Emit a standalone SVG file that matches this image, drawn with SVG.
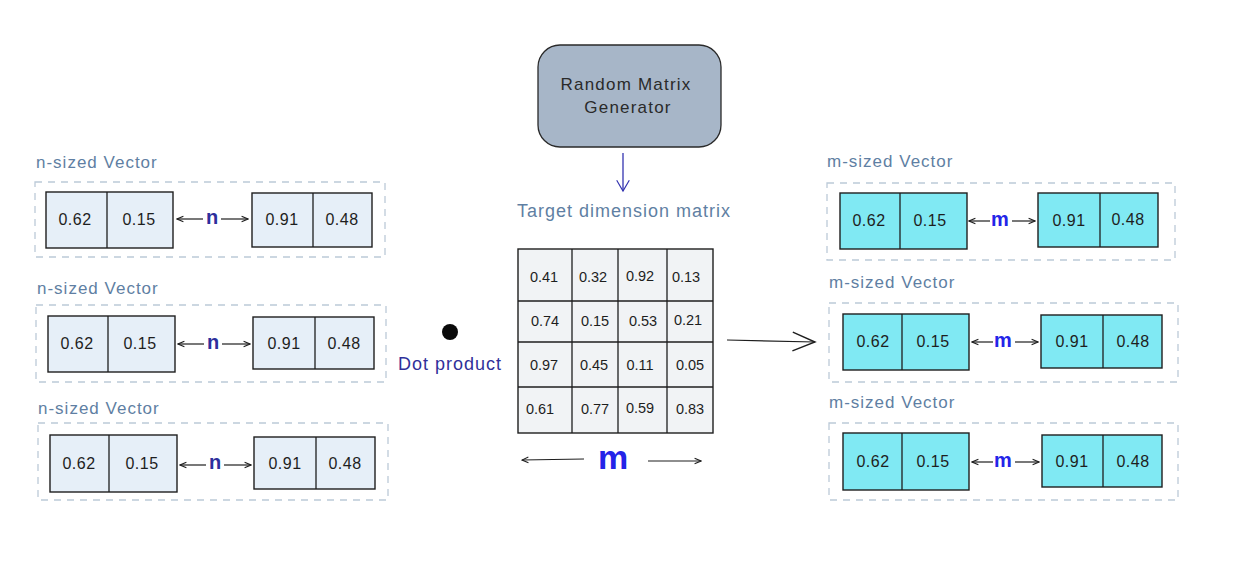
<svg xmlns="http://www.w3.org/2000/svg" width="1248" height="568" viewBox="0 0 1248 568">
  <style>
    .bg { fill: #ffffff; }
    .group-box { fill: none; stroke: #bccad8; stroke-width: 1.3; stroke-dasharray: 7 6; }
    .group-label { font-family: "Liberation Sans", "DejaVu Sans", sans-serif; font-size: 17px; letter-spacing: 1px; fill: #5f7fa3; }
    .vec-n { fill: #e6eff8; stroke: #1e1e1e; stroke-width: 1.4; }
    .vec-m { fill: #80e9f3; stroke: #1e1e1e; stroke-width: 1.4; }
    .div { stroke: #1e1e1e; stroke-width: 1.3; }
    .val { font-family: "Liberation Sans", "DejaVu Sans", sans-serif; font-size: 16px; letter-spacing: 0.5px; fill: #1e1e1e; text-anchor: middle; }
    .dim-n { font-family: "Liberation Sans", sans-serif; font-size: 20px; font-weight: bold; fill: #2e2e9c; text-anchor: middle; }
    .dim-m { font-family: "Liberation Sans", sans-serif; font-size: 20px; font-weight: bold; fill: #2424e8; text-anchor: middle; }
    .dim-big { font-family: "Liberation Sans", sans-serif; font-size: 34px; font-weight: bold; fill: #2424e8; text-anchor: middle; }
    .conn { stroke: #1e1e1e; stroke-width: 1.2; fill: none; }
    .gen { fill: #a7b6c8; stroke: #2a2a2a; stroke-width: 1.3; }
    .gen-text { font-family: "Liberation Sans", "DejaVu Sans", sans-serif; font-size: 17px; letter-spacing: 1.2px; fill: #2a2a2a; text-anchor: middle; }
    .matrix { fill: #f1f3f5; stroke: #1e1e1e; stroke-width: 1.4; }
    .mval { font-family: "Liberation Sans", "DejaVu Sans", sans-serif; font-size: 14.5px; fill: #1e1e1e; text-anchor: middle; }
    .caption { font-family: "Liberation Sans", "DejaVu Sans", sans-serif; font-size: 18px; letter-spacing: 1px; fill: #5f7fa3; }
    .dot-label { font-family: "Liberation Sans", "DejaVu Sans", sans-serif; font-size: 18px; letter-spacing: 1px; fill: #30309a; }
  </style>
  <defs>
    <marker id="head" viewBox="0 0 10 10" refX="9" refY="5" markerWidth="8" markerHeight="8" orient="auto-start-reverse" markerUnits="userSpaceOnUse">
      <path d="M1,1.5 L9,5 L1,8.5" fill="none" stroke="#1e1e1e" stroke-width="1.3"/>
    </marker>
    <marker id="head-big" viewBox="0 0 30 30" refX="28" refY="15" markerWidth="28" markerHeight="28" orient="auto" markerUnits="userSpaceOnUse">
      <path d="M4,5 L28,15 L4,25" fill="none" stroke="#1e1e1e" stroke-width="1.5"/>
    </marker>
    <marker id="head-blue" viewBox="0 0 20 20" refX="10" refY="18" markerWidth="18" markerHeight="18" orient="0" markerUnits="userSpaceOnUse">
      <path d="M3,6 L10,18 L17,6" fill="none" stroke="#3434b0" stroke-width="1.3"/>
    </marker>
  </defs>

  <rect class="bg" x="0" y="0" width="1248" height="568"/>

  <!-- n-sized input vectors -->
  <g id="n-vector-1">
    <text class="group-label" x="36" y="168">n-sized Vector</text>
    <rect class="group-box" x="35" y="182" width="350" height="75"/>
    <rect class="vec-n" x="46" y="192" width="127" height="56"/>
    <line class="div" x1="107" y1="192" x2="107" y2="248"/>
    <text class="val" x="75" y="225">0.62</text>
    <text class="val" x="139" y="225">0.15</text>
    <rect class="vec-n" x="252" y="193" width="120" height="54"/>
    <line class="div" x1="313" y1="193" x2="313" y2="247"/>
    <text class="val" x="282" y="225">0.91</text>
    <text class="val" x="342" y="225">0.48</text>
    <text class="dim-n" x="212" y="224">n</text>
  </g>

  <g id="n-vector-2">
    <text class="group-label" x="37" y="294">n-sized Vector</text>
    <rect class="group-box" x="36" y="305" width="350" height="77"/>
    <rect class="vec-n" x="48" y="316" width="127" height="56"/>
    <line class="div" x1="108" y1="316" x2="108" y2="372"/>
    <text class="val" x="77" y="349">0.62</text>
    <text class="val" x="140" y="349">0.15</text>
    <rect class="vec-n" x="253" y="317" width="121" height="52"/>
    <line class="div" x1="315" y1="317" x2="315" y2="369"/>
    <text class="val" x="284" y="349">0.91</text>
    <text class="val" x="344" y="349">0.48</text>
    <text class="dim-n" x="213" y="349">n</text>
  </g>

  <g id="n-vector-3">
    <text class="group-label" x="38" y="414">n-sized Vector</text>
    <rect class="group-box" x="38" y="423" width="350" height="77"/>
    <rect class="vec-n" x="50" y="435" width="127" height="57"/>
    <line class="div" x1="109" y1="435" x2="109" y2="492"/>
    <text class="val" x="79" y="469">0.62</text>
    <text class="val" x="142" y="469">0.15</text>
    <rect class="vec-n" x="254" y="437" width="121" height="52"/>
    <line class="div" x1="316" y1="437" x2="316" y2="489"/>
    <text class="val" x="285" y="469">0.91</text>
    <text class="val" x="345" y="469">0.48</text>
    <text class="dim-n" x="215" y="469">n</text>
  </g>

  <!-- generator -->
  <g id="random-matrix-generator">
    <rect class="gen" x="538" y="45" width="183" height="102" rx="22" ry="22"/>
    <text class="gen-text" x="626" y="90">Random Matrix</text>
    <text class="gen-text" x="628" y="113">Generator</text>
  </g>

  <!-- target matrix -->
  <g id="target-matrix">
    <text class="caption" x="517" y="217">Target dimension matrix</text>
    <rect class="matrix" x="518" y="249" width="195" height="184"/>
    <line class="div" x1="572" y1="249" x2="572" y2="433"/>
    <line class="div" x1="618" y1="249" x2="618" y2="433"/>
    <line class="div" x1="667" y1="249" x2="667" y2="433"/>
    <line class="div" x1="518" y1="301" x2="713" y2="301"/>
    <line class="div" x1="518" y1="342" x2="713" y2="342"/>
    <line class="div" x1="518" y1="387" x2="713" y2="387"/>
    <text class="mval" x="544" y="282">0.41</text>
    <text class="mval" x="593" y="282">0.32</text>
    <text class="mval" x="640" y="281">0.92</text>
    <text class="mval" x="686" y="282">0.13</text>
    <text class="mval" x="545" y="326">0.74</text>
    <text class="mval" x="595" y="326">0.15</text>
    <text class="mval" x="643" y="326">0.53</text>
    <text class="mval" x="688" y="325">0.21</text>
    <text class="mval" x="544" y="370">0.97</text>
    <text class="mval" x="594" y="370">0.45</text>
    <text class="mval" x="640" y="370">0.11</text>
    <text class="mval" x="690" y="370">0.05</text>
    <text class="mval" x="540" y="414">0.61</text>
    <text class="mval" x="595" y="414">0.77</text>
    <text class="mval" x="640" y="413">0.59</text>
    <text class="mval" x="690" y="414">0.83</text>
    <text class="dim-big" x="613" y="469">m</text>
  </g>

  <!-- dot product operator -->
  <g id="dot-product">
    <circle cx="450" cy="332" r="8" fill="#0a0a0a"/>
    <text class="dot-label" x="398" y="370">Dot product</text>
  </g>

  <!-- m-sized output vectors -->
  <g id="m-vector-1">
    <text class="group-label" x="827" y="167">m-sized Vector</text>
    <rect class="group-box" x="827" y="183" width="348" height="77"/>
    <rect class="vec-m" x="840" y="193" width="127" height="56"/>
    <line class="div" x1="900" y1="193" x2="900" y2="249"/>
    <text class="val" x="869" y="226">0.62</text>
    <text class="val" x="930" y="226">0.15</text>
    <rect class="vec-m" x="1038" y="193" width="120" height="54"/>
    <line class="div" x1="1100" y1="193" x2="1100" y2="247"/>
    <text class="val" x="1069" y="226">0.91</text>
    <text class="val" x="1128" y="225">0.48</text>
    <text class="dim-m" x="1000" y="226">m</text>
  </g>

  <g id="m-vector-2">
    <text class="group-label" x="829" y="288">m-sized Vector</text>
    <rect class="group-box" x="829" y="303" width="349" height="79"/>
    <rect class="vec-m" x="843" y="314" width="126" height="56"/>
    <line class="div" x1="902" y1="314" x2="902" y2="370"/>
    <text class="val" x="873" y="347">0.62</text>
    <text class="val" x="933" y="347">0.15</text>
    <rect class="vec-m" x="1041" y="315" width="121" height="53"/>
    <line class="div" x1="1103" y1="315" x2="1103" y2="368"/>
    <text class="val" x="1072" y="347">0.91</text>
    <text class="val" x="1133" y="347">0.48</text>
    <text class="dim-m" x="1003" y="347">m</text>
  </g>

  <g id="m-vector-3">
    <text class="group-label" x="829" y="408">m-sized Vector</text>
    <rect class="group-box" x="829" y="423" width="349" height="77"/>
    <rect class="vec-m" x="843" y="433" width="126" height="57"/>
    <line class="div" x1="902" y1="433" x2="902" y2="490"/>
    <text class="val" x="873" y="467">0.62</text>
    <text class="val" x="933" y="467">0.15</text>
    <rect class="vec-m" x="1042" y="435" width="120" height="52"/>
    <line class="div" x1="1103" y1="435" x2="1103" y2="487"/>
    <text class="val" x="1072" y="467">0.91</text>
    <text class="val" x="1133" y="467">0.48</text>
    <text class="dim-m" x="1003" y="467">m</text>
  </g>

  <!-- connectors -->
  <g id="connectors">
    <!-- n-dimension arrows -->
    <line class="conn" x1="203" y1="219" x2="177" y2="219" marker-end="url(#head)"/>
    <line class="conn" x1="221" y1="219" x2="248" y2="219" marker-end="url(#head)"/>
    <line class="conn" x1="204" y1="344" x2="178" y2="344" marker-end="url(#head)"/>
    <line class="conn" x1="222" y1="344" x2="250" y2="344" marker-end="url(#head)"/>
    <line class="conn" x1="206" y1="465" x2="180" y2="465" marker-end="url(#head)"/>
    <line class="conn" x1="224" y1="465" x2="251" y2="465" marker-end="url(#head)"/>
    <!-- m-dimension arrows -->
    <line class="conn" x1="990" y1="221" x2="969" y2="221" marker-end="url(#head)"/>
    <line class="conn" x1="1012" y1="221" x2="1035" y2="221" marker-end="url(#head)"/>
    <line class="conn" x1="993" y1="342" x2="972" y2="342" marker-end="url(#head)"/>
    <line class="conn" x1="1015" y1="342" x2="1038" y2="342" marker-end="url(#head)"/>
    <line class="conn" x1="993" y1="462" x2="972" y2="462" marker-end="url(#head)"/>
    <line class="conn" x1="1015" y1="462" x2="1039" y2="462" marker-end="url(#head)"/>
    <!-- matrix width arrows -->
    <line class="conn" x1="584" y1="459" x2="522" y2="460" marker-end="url(#head)"/>
    <line class="conn" x1="648" y1="461" x2="701" y2="461" marker-end="url(#head)"/>
    <!-- generator to matrix -->
    <line x1="623" y1="153" x2="623" y2="191" stroke="#3434b0" stroke-width="1.3" marker-end="url(#head-blue)"/>
    <!-- matrix to outputs -->
    <line class="conn" x1="727" y1="340" x2="815" y2="342" stroke-width="1.5" marker-end="url(#head-big)"/>
  </g>
</svg>
